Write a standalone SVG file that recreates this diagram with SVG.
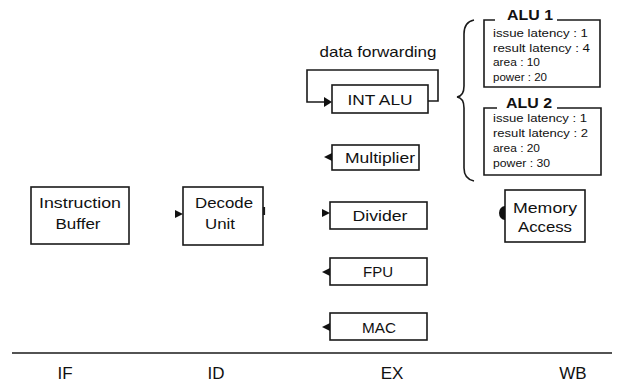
<svg xmlns="http://www.w3.org/2000/svg" width="617" height="383" viewBox="0 0 617 383">
<defs>
<style>
.box{fill:#fff;stroke:#1a1a1a;stroke-width:1.6}
.ln{fill:none;stroke:#1a1a1a;stroke-width:1.6}
.t{font-family:"Liberation Sans",Arial,sans-serif;font-size:15px;fill:#111;text-anchor:middle}
.st{font-family:"Liberation Sans",Arial,sans-serif;font-size:17px;fill:#111;text-anchor:middle}
.ti{font-family:"Liberation Sans",Arial,sans-serif;font-size:14px;font-weight:bold;fill:#111;text-anchor:middle}
.p{font-family:"Liberation Sans",Arial,sans-serif;font-size:11.5px;fill:#111}
.hd{fill:#111}
</style>
</defs>
<rect width="617" height="383" fill="#fff"/>

<g id="instruction-buffer">
<rect class="box" x="31" y="187" width="98" height="57"/>
<text class="t" x="80" y="208" textLength="82" lengthAdjust="spacingAndGlyphs">Instruction</text>
<text class="t" x="78" y="229" textLength="45" lengthAdjust="spacingAndGlyphs">Buffer</text>
</g>

<g id="decode-unit">
<rect class="box" x="183" y="187" width="80" height="58"/>
<text class="t" x="224" y="208" textLength="58" lengthAdjust="spacingAndGlyphs">Decode</text>
<text class="t" x="220" y="229" textLength="30" lengthAdjust="spacingAndGlyphs">Unit</text>
</g>

<g id="int-alu">
<rect class="box" x="332" y="85" width="96" height="28"/>
<text class="t" x="380" y="105" textLength="65" lengthAdjust="spacingAndGlyphs">INT ALU</text>
</g>

<g id="multiplier">
<rect class="box" x="332" y="145" width="87" height="25"/>
<text class="t" x="380" y="163" textLength="70" lengthAdjust="spacingAndGlyphs">Multiplier</text>
</g>

<g id="divider">
<rect class="box" x="330" y="202" width="97" height="27"/>
<text class="t" x="380" y="221" textLength="55" lengthAdjust="spacingAndGlyphs">Divider</text>
</g>

<g id="fpu">
<rect class="box" x="330" y="258" width="97" height="27"/>
<text class="t" x="378" y="277" textLength="30" lengthAdjust="spacingAndGlyphs">FPU</text>
</g>

<g id="mac">
<rect class="box" x="330" y="313" width="97" height="27"/>
<text class="t" x="379" y="333" textLength="34" lengthAdjust="spacingAndGlyphs">MAC</text>
</g>

<g id="memory-access">
<rect class="box" x="505" y="190" width="80" height="52"/>
<text class="t" x="545" y="213" textLength="64" lengthAdjust="spacingAndGlyphs">Memory</text>
<text class="t" x="545" y="232" textLength="54" lengthAdjust="spacingAndGlyphs">Access</text>
</g>

<g id="alu1">
<path class="ln" d="M495 20 H484 V87 H600 V20 H557"/>
<text class="ti" x="530" y="20" textLength="46" lengthAdjust="spacingAndGlyphs">ALU 1</text>
<text class="p" x="493" y="37" textLength="95" lengthAdjust="spacingAndGlyphs">issue latency : 1</text>
<text class="p" x="493" y="52" textLength="97" lengthAdjust="spacingAndGlyphs">result latency : 4</text>
<text class="p" x="493" y="66" textLength="47" lengthAdjust="spacingAndGlyphs">area : 10</text>
<text class="p" x="493" y="81" textLength="54" lengthAdjust="spacingAndGlyphs">power : 20</text>
</g>

<g id="alu2">
<path class="ln" d="M497 108 H484 V175 H601 V108 H557"/>
<text class="ti" x="529" y="108" textLength="46" lengthAdjust="spacingAndGlyphs">ALU 2</text>
<text class="p" x="493" y="122" textLength="94" lengthAdjust="spacingAndGlyphs">issue latency : 1</text>
<text class="p" x="493" y="137" textLength="95" lengthAdjust="spacingAndGlyphs">result latency : 2</text>
<text class="p" x="493" y="152" textLength="47" lengthAdjust="spacingAndGlyphs">area : 20</text>
<text class="p" x="493" y="167" textLength="57" lengthAdjust="spacingAndGlyphs">power : 30</text>
</g>

<g id="brace">
<path class="ln" d="M474 20 Q464 22 464 34 V86 Q464 96 457 97 Q464 98 464 108 V168 Q464 179 474 181"/>
</g>

<g id="connectors">
<text class="t" x="378" y="57" textLength="117" lengthAdjust="spacingAndGlyphs">data forwarding</text>
<path class="ln" d="M428 101 H438 V70 H307 V102 H326"/>
<polygon class="hd" points="324,97 332,102 324,107"/>
<polygon class="hd" points="175,210 183,214 175,218"/>
<path class="ln" d="M264 207 V215" style="stroke-width:2.2"/>
<polygon class="hd" points="332,153 324,157 332,161"/>
<polygon class="hd" points="322,209 330,213 322,217"/>
<polygon class="hd" points="330,268 322,272 330,276"/>
<polygon class="hd" points="330,323 322,327 330,331"/>
<path class="hd" d="M505 206 A6 7 0 0 0 505 220 Z"/>
<path class="ln" d="M12 353 H612"/>
</g>

<g id="stages">
<text class="st" x="65" y="379">IF</text>
<text class="st" x="216" y="379">ID</text>
<text class="st" x="392" y="379">EX</text>
<text class="st" x="573" y="379">WB</text>
</g>
</svg>
